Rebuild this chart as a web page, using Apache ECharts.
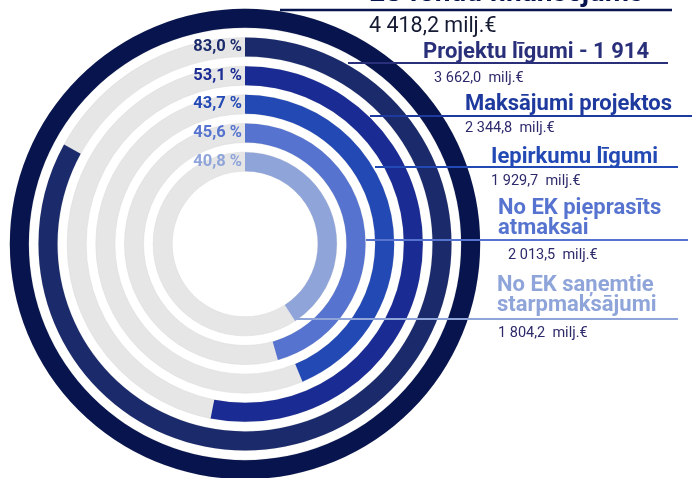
<!DOCTYPE html>
<html>
    <head>
        <meta charset="utf-8">
        <title>ES fondu finansējums</title>
        <style>
            html, body { margin: 0; padding: 0; background: #fff; }
            #chart1 { width: 692px; height: 478px; }
        </style>
    </head>
    <body>
        <div id="chart1"></div>
        <script src="https://cdn.jsdelivr.net/npm/echarts@6/dist/echarts.min.js"></script>
        <script type="text/javascript">
            // rings from inner to outer
            var ringTitles = ['No EK saņemtie\nstarpmaksājumi', 'No EK pieprasīts\natmaksai', 'Iepirkumu līgumi', 'Maksājumi projektos', 'Projektu līgumi - 1 914', 'ES fondu finansējums'];
            var ringShares = [40.8, 45.6, 43.7, 53.1, 83.0, 100];
            var ringAmounts = ['1 804,2  milj.€', '2 013,5  milj.€', '1 929,7  milj.€', '2 344,8  milj.€', '3 662,0  milj.€', '4 418,2 milj.€'];

            var ringColors = ['#8fa5da', '#5674cf', '#2349b5', '#1a2b94', '#1b2a6b', '#07144d'];
            var titleColors = ['#8fa5da', '#5674cf', '#2349b5', '#1f3a9e', '#2a2f7a', '#07144d'];
            var amountColor = '#2d2a6b';

            // where the side notes go: title y, amount y, line y, line x range, text x
            var notes = [
                {tx: 497, ty: 295, ax: 498, ay: 333, ly: 319, lx: [295, 678]},
                {tx: 498, ty: 218, ax: 508, ay: 255, ly: 240, lx: [366, 688]},
                {tx: 491, ty: 157, ax: 491, ay: 181, ly: 167, lx: [375, 678]},
                {tx: 465, ty: 104, ax: 465, ay: 128, ly: 116, lx: [370, 692]},
                {tx: 423, ty: 52, ax: 434, ay: 78, ly: 63, lx: [348, 668]},
                {tx: 369, ty: -6, ax: 369, ay: 27, ly: 10, lx: [280, 672]}
            ];

            var graphics = [];
            notes.forEach(function (n, i) {
                var outer = i === ringTitles.length - 1;
                graphics.push({
                    type: 'line', z: 10,
                    shape: {x1: n.lx[0], y1: n.ly, x2: n.lx[1], y2: n.ly},
                    style: {stroke: titleColors[i], lineWidth: outer ? 2.5 : 2}
                });
                graphics.push({
                    type: 'text', z: 10, x: n.tx, y: n.ty,
                    style: {
                        text: ringTitles[i], fill: titleColors[i],
                        font: 'bold ' + (outer ? 28 : 22) + 'px Roboto',
                        lineHeight: 20, verticalAlign: 'middle'
                    }
                });
                graphics.push({
                    type: 'text', z: 10, x: n.ax, y: n.ay,
                    style: {
                        text: ringAmounts[i], fill: outer ? '#151a33' : amountColor,
                        font: (outer ? 21.5 : 14.5) + 'px Roboto', verticalAlign: 'middle'
                    }
                });
            });

            var myChart1 = echarts.init(document.getElementById('chart1'), null, {renderer: 'canvas'});
            myChart1.setOption({
                animation: false,
                polar: {
                    center: [245, 244],
                    radius: [68, 240]
                },
                angleAxis: {
                    type: 'value', min: 0, max: 100,
                    startAngle: 90, clockwise: true,
                    show: false
                },
                radiusAxis: {
                    type: 'category',
                    data: ringTitles,
                    show: false
                },
                series: [{
                    type: 'bar',
                    coordinateSystem: 'polar',
                    barWidth: 19,
                    showBackground: true,
                    backgroundStyle: {color: '#e6e6e6', borderColor: '#dcdcdc', borderWidth: 0.6},
                    data: ringShares.map(function (v, i) {
                        return {
                            value: v,
                            itemStyle: {color: ringColors[i]},
                            label: {
                                show: i < ringShares.length - 1,
                                position: 'startAngle',
                                distance: 3,
                                color: ringColors[i],
                                fontFamily: 'Roboto',
                                fontWeight: 'bold',
                                fontSize: 16.5,
                                formatter: function (p) {
                                    return p.value.toFixed(1).replace('.', ',') + ' %';
                                }
                            }
                        };
                    })
                }],
                graphic: graphics
            });
        </script>
    </body>
</html>
